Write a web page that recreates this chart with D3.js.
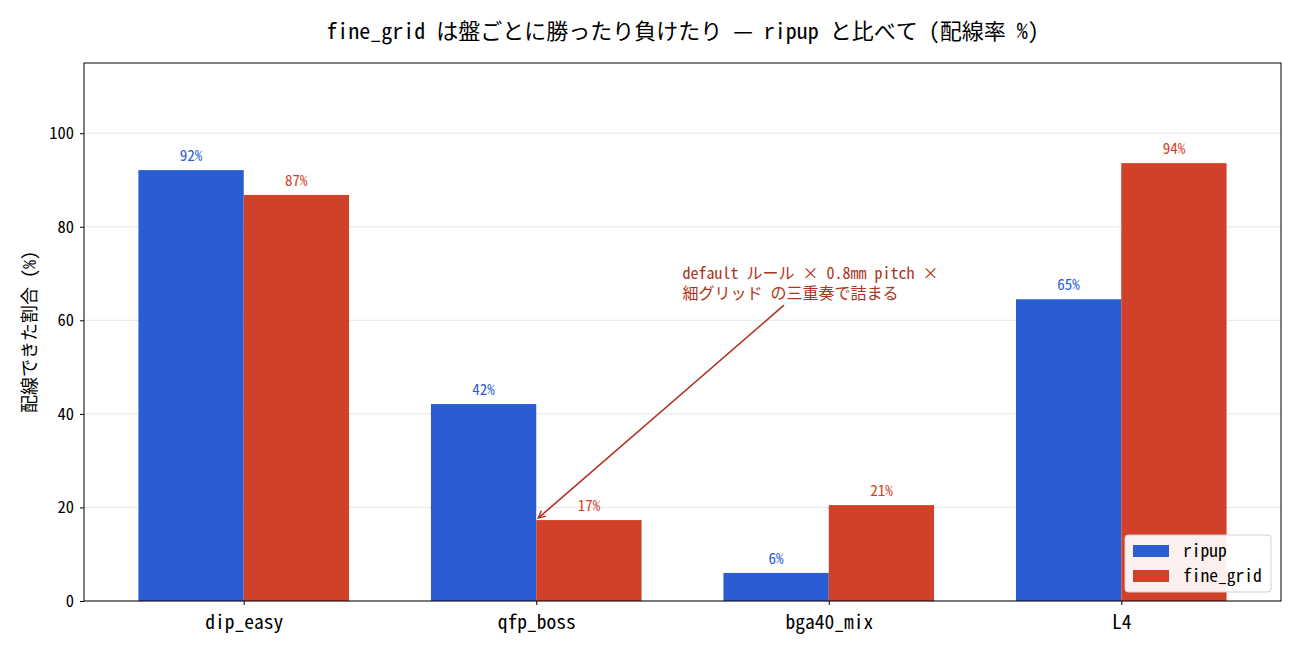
<!DOCTYPE html>
<html>
<head>
<meta charset="utf-8">
<script src="https://cdn.jsdelivr.net/npm/d3@7"></script>
<style>
  body { margin: 0; background: #fff; }
  svg, svg text { font-family: "Noto Sans Mono CJK JP", "Noto Sans CJK JP", "DejaVu Sans Mono", monospace; }
</style>
</head>
<body>
<script>
const WIDTH = 1300;
const HEIGHT = 650;

// data
const boards = ['dip_easy', 'qfp_boss', 'bga40_mix', 'L4'];
const seriesNames = ['ripup', 'fine_grid'];
const ripup = [92.1, 42.1, 6.0, 64.5];
const fineGrid = [86.8, 17.3, 20.5, 93.6];
const yTicks = [0, 20, 40, 60, 80, 100];
const title = 'fine_grid は盤ごとに勝ったり負けたり — ripup と比べて (配線率 %)';
const yLabel = '配線できた割合 (%)';
const noteLines = ['default ルール × 0.8mm pitch ×', '細グリッド の三重奏で詰まる'];
const noteAt = [1.5, 72];      // text position (data)
const noteTarget = [1.0, 17.3]; // arrow tip (data)

const colors = ['#2a5cd3', '#d14028'];
const noteColor = '#b03220';
const barWidth = 0.36;

const margin = { left: 84, right: 19, top: 63, bottom: 49 };
const x = d3.scaleLinear()
    .domain([-0.546, 3.546])
    .range([margin.left, WIDTH - margin.right]);
const y = d3.scaleLinear()
    .domain([0, 115])
    .range([HEIGHT - margin.bottom, margin.top]);

const svg = d3.select('body').append('svg')
    .attr('width', WIDTH)
    .attr('height', HEIGHT)
    .attr('viewBox', [0, 0, WIDTH, HEIGHT]);

// grid
svg.append('g')
    .selectAll('line')
    .data(yTicks)
    .join('line')
        .attr('x1', x.range()[0])
        .attr('x2', x.range()[1])
        .attr('y1', d => y(d))
        .attr('y2', d => y(d))
        .attr('stroke', '#e6e6e6')
        .attr('stroke-width', 1);

// bars
const series = [ripup, fineGrid];
series.forEach((vals, si) => {
    const offset = si === 0 ? -barWidth : 0;
    svg.append('g')
        .attr('fill', colors[si])
        .selectAll('rect')
        .data(vals)
        .join('rect')
            .attr('x', (d, i) => x(i + offset))
            .attr('width', x(barWidth) - x(0))
            .attr('y', d => y(d))
            .attr('height', d => y(0) - y(d));

    svg.append('g')
        .attr('fill', colors[si])
        .attr('font-size', 15)
        .attr('text-anchor', 'middle')
        .selectAll('text')
        .data(vals)
        .join('text')
            .attr('x', (d, i) => x(i + offset + barWidth / 2))
            .attr('y', d => y(d) - 9)
            .text(d => Math.round(d) + '%');
});

// axes
const xAxis = d3.axisBottom(x)
    .tickValues(d3.range(boards.length))
    .tickFormat(i => boards[i])
    .tickSize(4)
    .tickSizeOuter(0);
svg.append('g')
    .attr('transform', `translate(0,${y(0)})`)
    .call(xAxis)
    .attr('font-family', null)
    .call(g => g.select('.domain').remove())
    .call(g => g.selectAll('text').attr('font-size', 19.5).attr('fill', '#000').attr('y', 10).attr('dy', '0.9em'))
    .call(g => g.selectAll('line').attr('stroke', '#000'));

const yAxis = d3.axisLeft(y)
    .tickValues(yTicks)
    .tickSize(4);
svg.append('g')
    .attr('transform', `translate(${margin.left},0)`)
    .call(yAxis)
    .attr('font-family', null)
    .call(g => g.select('.domain').remove())
    .call(g => g.selectAll('text').attr('font-size', 16.5).attr('fill', '#000').attr('x', -10))
    .call(g => g.selectAll('line').attr('stroke', '#000'));

// frame
svg.append('rect')
    .attr('x', x.range()[0])
    .attr('y', y.range()[1])
    .attr('width', x.range()[1] - x.range()[0])
    .attr('height', y.range()[0] - y.range()[1])
    .attr('fill', 'none')
    .attr('stroke', '#000')
    .attr('stroke-width', 1);

// titles
svg.append('text')
    .attr('x', (x.range()[0] + x.range()[1]) / 2)
    .attr('y', 39)
    .attr('text-anchor', 'middle')
    .attr('font-size', 22)
    .text(title);

svg.append('text')
    .attr('transform', `translate(36,${(y.range()[0] + y.range()[1]) / 2}) rotate(-90)`)
    .attr('text-anchor', 'middle')
    .attr('font-size', 18)
    .text(yLabel);

// annotation (one text, two lines)
const note = svg.append('text')
    .attr('fill', noteColor)
    .attr('font-size', 16)
    .attr('x', x(noteAt[0]))
    .attr('y', y(noteAt[1]) + 15);
note.selectAll('tspan')
    .data(noteLines)
    .join('tspan')
        .attr('x', x(noteAt[0]))
        .attr('dy', (d, i) => i === 0 ? 0 : 20)
        .text(d => d);
const bb = note.node().getBBox();
const cx = bb.x + bb.width / 2, cy = bb.y + bb.height / 2;
const tx = x(noteTarget[0]), ty = y(noteTarget[1]);
// start where the line from the text centre leaves the text box
const bottom = bb.y + bb.height + 1;
const sx = cx + (tx - cx) * (bottom - cy) / (ty - cy);
svg.append('defs').append('marker')
    .attr('id', 'arr')
    .attr('viewBox', '0 0 10 10')
    .attr('refX', 9).attr('refY', 5)
    .attr('markerWidth', 9).attr('markerHeight', 9)
    .attr('markerUnits', 'userSpaceOnUse')
    .attr('orient', 'auto')
  .append('path')
    .attr('d', 'M1,1 L9,5 L1,9')
    .attr('fill', 'none')
    .attr('stroke', noteColor)
    .attr('stroke-width', 1.5);
svg.append('line')
    .attr('x1', sx).attr('y1', bottom)
    .attr('x2', tx + 2).attr('y2', ty - 2)
    .attr('stroke', noteColor)
    .attr('stroke-width', 1.6)
    .attr('marker-end', 'url(#arr)');

// legend
const lg = svg.append('g').attr('transform', `translate(${WIDTH - margin.right - 156},${y(0) - 66})`);
lg.append('rect')
    .attr('width', 146).attr('height', 57)
    .attr('rx', 3)
    .attr('fill', '#fff').attr('fill-opacity', 0.92)
    .attr('stroke', '#d0d0d0');
seriesNames.forEach((name, i) => {
    lg.append('rect')
        .attr('x', 8).attr('y', 10 + i * 25)
        .attr('width', 36).attr('height', 12)
        .attr('fill', colors[i]);
    lg.append('text')
        .attr('x', 58).attr('y', 22 + i * 25)
        .attr('font-size', 17.5)
        .text(name);
});
</script>
</body>
</html>
